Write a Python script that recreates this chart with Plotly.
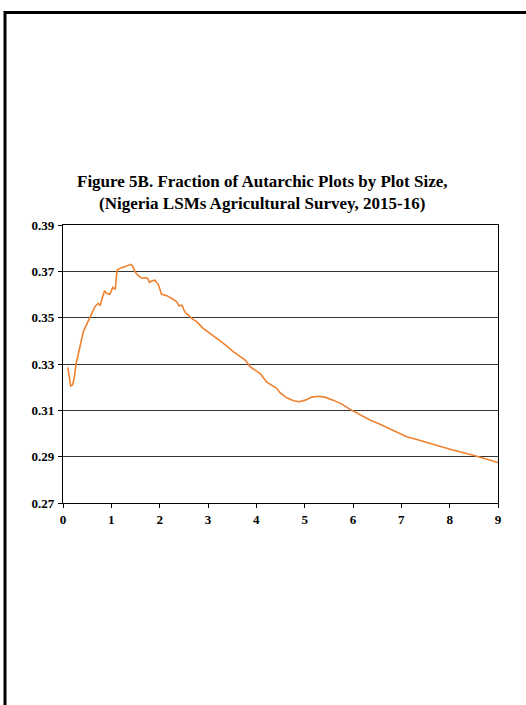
import plotly.graph_objects as go

# Plot size (hectares) and fraction of autarchic plots
plot_size = [0.10, 0.13, 0.16, 0.20, 0.24, 0.27, 0.34, 0.42, 0.50, 0.57, 0.66, 0.73,
             0.77, 0.80, 0.86, 0.90, 0.97, 1.03, 1.08, 1.12, 1.17, 1.21, 1.28, 1.35,
             1.40, 1.44, 1.49, 1.56, 1.63, 1.70, 1.75, 1.79, 1.83, 1.90, 1.97, 2.04,
             2.15, 2.25, 2.35, 2.40, 2.46, 2.52, 2.66, 2.77, 2.90, 3.11, 3.32, 3.52,
             3.77, 3.87, 4.08, 4.21, 4.42, 4.49, 4.63, 4.77, 4.89, 5.01, 5.15, 5.28,
             5.42, 5.59, 5.77, 5.94, 6.15, 6.35, 6.56, 6.80, 7.11, 7.32, 7.59, 8.01,
             8.49, 9.00]
autarchic_share = [0.3285, 0.3240, 0.3205, 0.3210, 0.3250, 0.3300, 0.3367, 0.3439,
                   0.3475, 0.3504, 0.3547, 0.3562, 0.3554, 0.3576, 0.3616, 0.3605,
                   0.3601, 0.3631, 0.3622, 0.3706, 0.3713, 0.3716, 0.3720, 0.3724,
                   0.3730, 0.3724, 0.3698, 0.3681, 0.3670, 0.3672, 0.3670, 0.3652,
                   0.3658, 0.3662, 0.3644, 0.3601, 0.3595, 0.3583, 0.3570, 0.3551,
                   0.3554, 0.3525, 0.3497, 0.3482, 0.3454, 0.3421, 0.3389, 0.3353,
                   0.3317, 0.3288, 0.3259, 0.3223, 0.3195, 0.3176, 0.3154, 0.3141,
                   0.3137, 0.3144, 0.3157, 0.3161, 0.3157, 0.3144, 0.3127, 0.3104,
                   0.3079, 0.3058, 0.3040, 0.3017, 0.2986, 0.2974, 0.2957, 0.2932,
                   0.2906, 0.2875]

x_ticks = [0, 1, 2, 3, 4, 5, 6, 7, 8, 9]
y_ticks = [0.27, 0.29, 0.31, 0.33, 0.35, 0.37, 0.39]
y_tick_labels = ["0.27", "0.29", "0.31", "0.33", "0.35", "0.37", "0.39"]

title_lines = ["Figure 5B. Fraction of Autarchic Plots by Plot Size,",
               "(Nigeria LSMs Agricultural Survey, 2015-16)"]

W, H = 526, 705
ML, MR, MT, MB = 63, 28, 225, 202
plot_w = W - ML - MR
plot_h = H - MT - MB


def px_to_paper_x(px):
    return (px - ML) / plot_w


def px_to_paper_y(py):
    return (H - MB - py) / plot_h


serif = "Liberation Serif, Times New Roman, serif"
tick_font = dict(family=serif, size=13, color="black", weight="bold")

fig = go.Figure()
fig.add_trace(go.Scatter(
    x=plot_size, y=autarchic_share, mode="lines",
    line=dict(color="#EF8230", width=1.6),
    showlegend=False, hoverinfo="skip",
))

fig.update_xaxes(
    range=[0, 9], tickvals=x_ticks, ticktext=[str(v) for v in x_ticks],
    showgrid=False, zeroline=False,
    showline=True, linecolor="black", linewidth=1.2, mirror=True,
    ticks="outside", ticklen=4, tickcolor="black", tickwidth=1,
    tickfont=tick_font,
)
fig.update_yaxes(
    range=[0.27, 0.39], tickvals=y_ticks, ticktext=y_tick_labels,
    showgrid=True, gridcolor="#333333", gridwidth=1, zeroline=False,
    showline=True, linecolor="black", linewidth=1.2, mirror=True,
    ticks="outside", ticklen=4, tickcolor="black", tickwidth=1,
    tickfont=tick_font, ticklabelstandoff=1,
)

# Two-line bold title centred on the page
fig.add_annotation(
    text="<b>" + "<br>".join(title_lines) + "</b>", xref="paper", yref="paper",
    x=px_to_paper_x(262), y=px_to_paper_y(192.5),
    xanchor="center", yanchor="middle", showarrow=False, align="center",
    font=dict(family=serif, size=17, color="black"),
)

# Page frame around the figure
fig.add_shape(
    type="rect", xref="paper", yref="paper",
    x0=px_to_paper_x(5), x1=px_to_paper_x(640),
    y0=px_to_paper_y(800), y1=px_to_paper_y(12.5),
    line=dict(color="black", width=3), fillcolor="rgba(0,0,0,0)", layer="above",
)

fig.update_layout(
    width=W, height=H,
    margin=dict(l=ML, r=MR, t=MT, b=MB),
    paper_bgcolor="white", plot_bgcolor="white",
)

fig.write_html("out.html")
